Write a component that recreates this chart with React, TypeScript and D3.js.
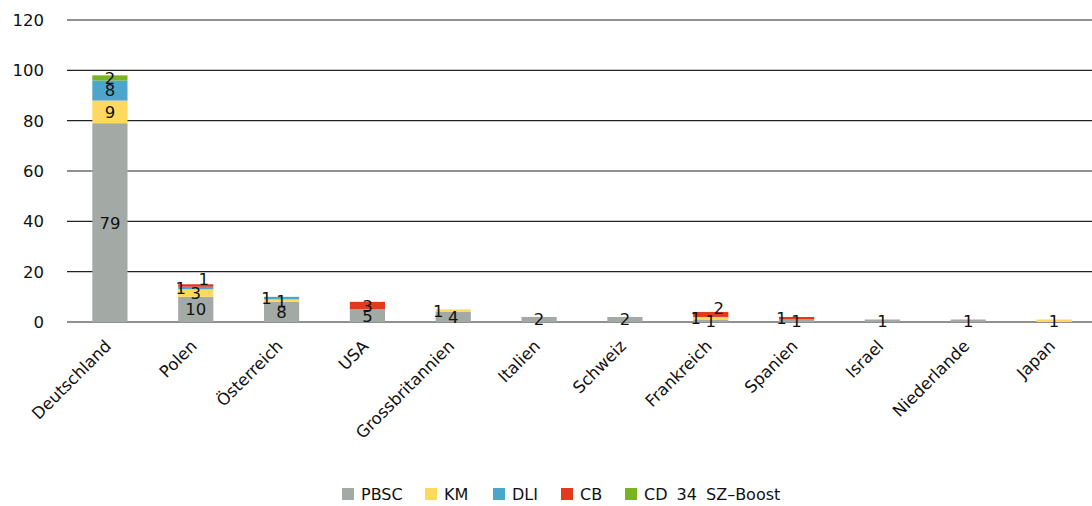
import React from "react";
import * as d3 from "d3";

const countries = [
  "Deutschland", "Polen", "Österreich", "USA", "Grossbritannien", "Italien",
  "Schweiz", "Frankreich", "Spanien", "Israel", "Niederlande", "Japan",
];
const seriesNames = ["PBSC", "KM", "DLI", "CB", "CD 34 SZ–Boost"];
const seriesColors = ["#a3aaa6", "#fed95d", "#4ba7c9", "#e2391f", "#78b41f"];
const pbsc = [79, 10, 8, 5, 4, 2, 2, 1, 1, 1, 1, 0];
const km = [9, 3, 1, 0, 1, 0, 0, 1, 0, 0, 0, 1];
const dli = [8, 1, 1, 0, 0, 0, 0, 0, 0, 0, 0, 0];
const cb = [0, 1, 0, 3, 0, 0, 0, 2, 1, 0, 0, 0];
const boost = [2, 0, 0, 0, 0, 0, 0, 0, 0, 0, 0, 0];
const yTicks = [0, 20, 40, 60, 80, 100, 120];

const W = 1092;
const H = 506;
const FONT = "'DejaVu Sans', sans-serif";

export default function App() {
  const values = [pbsc, km, dli, cb, boost];
  const rows = countries.map((c, i) => {
    const r: any = { country: c };
    seriesNames.forEach((s, k) => (r[s] = values[k][i]));
    return r;
  });
  const stacked = d3.stack<any>().keys(seriesNames)(rows);

  const x = d3.scaleBand<string>().domain(countries).range([67, 1097]).paddingInner(0.59).paddingOuter(0.295);
  const y = d3.scaleLinear().domain([0, 120]).range([322, 20]);

  // value labels, nudged sideways/up when they collide inside a stack
  const labels: { x: number; y: number; t: string; key: string }[] = [];
  countries.forEach((c, i) => {
    const cx = (x(c) as number) + x.bandwidth() / 2;
    const placed: { x: number; y: number }[] = [];
    let collisions = 0;
    stacked.forEach((layer, k) => {
      const d = layer[i];
      const v = d[1] - d[0];
      if (v <= 0) return;
      let ly = y((d[0] + d[1]) / 2);
      let lx = cx;
      if (placed.some((p) => Math.abs(p.y - ly) < 10 && Math.abs(p.x - lx) < 12)) {
        collisions++;
        if (collisions === 1) lx = cx - 15;
        else { lx = cx + 8; ly -= 6; }
      }
      placed.push({ x: lx, y: ly });
      labels.push({ x: lx, y: ly, t: String(v), key: `${c}-${k}` });
    });
  });

  const legendX = [342, 425, 493, 561, 625];

  return (
    <svg width={W} height={H} style={{ position: "absolute", left: 0, top: 0 }} fontFamily={FONT}>
      <rect width={W} height={H} fill="#fff" />
      {yTicks.map((t) => (
        <g key={t}>
          <line x1={67} x2={W} y1={y(t)} y2={y(t)} stroke="#222" strokeWidth={1.2} />
          <text x={44} y={y(t)} dy="0.36em" textAnchor="end" fontSize={16.5} fill="#111">{t}</text>
        </g>
      ))}
      {stacked.map((layer, k) => (
        <g key={layer.key} fill={seriesColors[k]}>
          {layer.map((d, i) =>
            d[1] - d[0] > 0 ? (
              <rect key={i} x={x(countries[i])} width={x.bandwidth()} y={y(d[1])} height={y(d[0]) - y(d[1])} />
            ) : null
          )}
        </g>
      ))}
      {labels.map((l) => (
        <text key={l.key} x={l.x} y={l.y} dy="0.36em" textAnchor="middle" fontSize={16.5} fill="#111">{l.t}</text>
      ))}
      {countries.map((c) => {
        const cx = (x(c) as number) + x.bandwidth() / 2 - 6;
        return (
          <text key={c} transform={`translate(${cx},${339}) rotate(-45)`} textAnchor="end" dy="0.7em" fontSize={16.5} fill="#111">{c}</text>
        );
      })}
      {seriesNames.map((s, k) => (
        <g key={s}>
          <rect x={legendX[k]} y={488} width={12} height={12} fill={seriesColors[k]} />
          <text x={legendX[k] + 19} y={494} dy="0.36em" fontSize={16} wordSpacing={4} fill="#111">{s}</text>
        </g>
      ))}
    </svg>
  );
}
